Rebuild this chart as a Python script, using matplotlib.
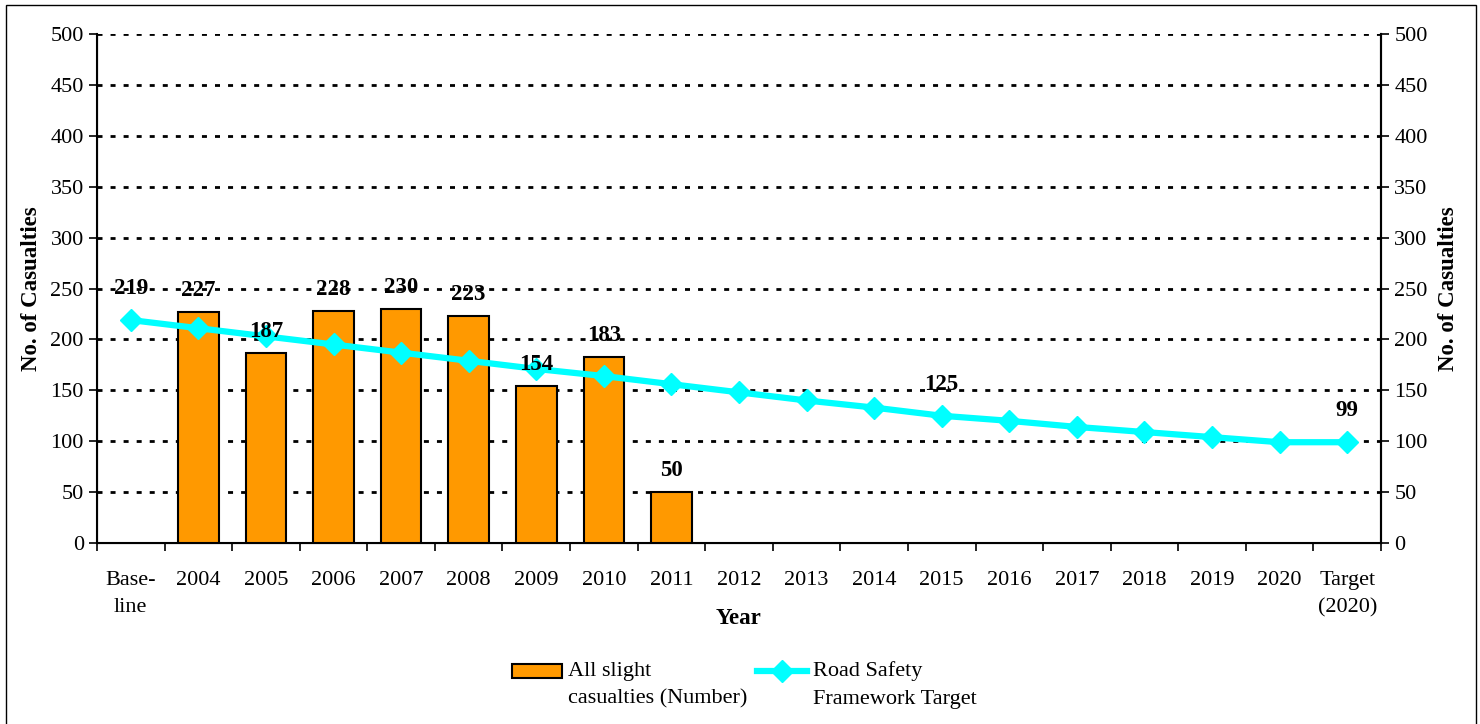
import matplotlib.pyplot as plt
from matplotlib.patches import Rectangle
from matplotlib.legend_handler import HandlerPatch, HandlerLine2D
import numpy as np

plt.rcParams['font.family'] = ['Liberation Serif', 'DejaVu Serif']

# Daten
categories = ['Base-\nline', '2004', '2005', '2006', '2007', '2008', '2009', '2010',
              '2011', '2012', '2013', '2014', '2015', '2016', '2017', '2018',
              '2019', '2020', 'Target\n(2020)']
casualties = [None, 227, 187, 228, 230, 223, 154, 183, 50,
              None, None, None, None, None, None, None, None, None, None]
target = [219, 211, 203, 195, 187, 179, 171, 164, 156, 148, 140, 133, 125,
          120, 114, 109, 104, 99, 99]
target_labels = {0: '219', 12: '125', 18: '99'}
y_ticks = [0, 50, 100, 150, 200, 250, 300, 350, 400, 450, 500]
legend_labels = ['All slight\ncasualties (Number)', 'Road Safety\nFramework Target']

LEG_SHIFT = 9.5  # Symbol auf Hoehe der ersten Textzeile


class TopPatch(HandlerPatch):
    def create_artists(self, legend, orig_handle, xdescent, ydescent, width, height,
                       fontsize, trans):
        return super().create_artists(legend, orig_handle, xdescent, ydescent - LEG_SHIFT,
                                      width, height, fontsize, trans)


class TopLine(HandlerLine2D):
    def create_artists(self, legend, orig_handle, xdescent, ydescent, width, height,
                       fontsize, trans):
        return super().create_artists(legend, orig_handle, xdescent, ydescent - 2 * LEG_SHIFT,
                                      width, height, fontsize, trans)


fig = plt.figure(figsize=(14.8, 7.24), dpi=100)
ax = fig.add_axes([97 / 1480, 1 - 543 / 724, (1381 - 97) / 1480, (543 - 34) / 724])

x = np.arange(len(categories))

# Balken
bx = [i for i, v in enumerate(casualties) if v is not None]
bv = [v for v in casualties if v is not None]
bars = ax.bar(bx, bv, width=0.6, color='#FF9900', edgecolor='black', linewidth=1.5,
              zorder=3)
for xi, v in zip(bx, bv):
    ax.annotate(str(v), (xi, v), xytext=(0, 8), textcoords='offset points',
                ha='center', va='bottom', fontsize=16.5, fontweight='bold', zorder=6)

# Linie
line, = ax.plot(x, target, color='#00FFFF', linewidth=4.5, marker='D', markersize=11,
                zorder=4)
for i, txt in target_labels.items():
    ax.annotate(txt, (i, target[i]), xytext=(0, 15), textcoords='offset points',
                ha='center', va='bottom', fontsize=16.5, fontweight='bold', zorder=6)

# Gitter
for yv in y_ticks[1:]:
    ax.axhline(yv, color='black', linewidth=2, linestyle=(0, (1.8, 2.9)), zorder=1)

ax.set_xlim(-0.5, len(categories) - 0.5)
ax.set_ylim(0, 500)
ax.set_yticks(y_ticks)
ax.set_xticks(x)
ax.set_xticklabels(categories, fontsize=16)
for lbl in ax.get_xticklabels():
    lbl.set_linespacing(1.6)
ax.set_xticks(np.arange(-0.5, len(categories), 1), minor=True)
ax.tick_params(axis='x', which='major', length=0, pad=20)
ax.tick_params(axis='x', which='minor', length=6, width=1.2, direction='out')
ax.tick_params(axis='y', length=6, width=1.2, labelsize=16)
ax.spines['top'].set_visible(False)
for s in ['left', 'right', 'bottom']:
    ax.spines[s].set_linewidth(1.5)

ax.set_xlabel('Year', fontsize=16.5, fontweight='bold', va='center')
ax.xaxis.set_label_coords(0.5, -(619 - 543) / 509)
ax.set_ylabel('No. of Casualties', fontsize=16.5, fontweight='bold', va='center')
ax.yaxis.set_label_coords((32 - 97) / 1284, 0.5)

ax2 = ax.twinx()
ax2.set_ylim(0, 500)
ax2.set_yticks(y_ticks)
ax2.tick_params(axis='y', length=6, width=1.2, labelsize=16)
ax2.spines['top'].set_visible(False)
ax2.spines['right'].set_linewidth(1.5)
ax2.set_ylabel('No. of Casualties', fontsize=16.5, fontweight='bold', rotation=90, va='center')
ax2.yaxis.set_label_coords((1448 - 97) / 1284, 0.5)

# Legende
bar_handle = bars.patches[0]
leg = fig.legend([bar_handle, line], legend_labels, loc='center',
                 bbox_to_anchor=(0.503, 1 - 685 / 724),
                 ncol=2, frameon=False, fontsize=16, handlelength=2.25, columnspacing=0.45,
                 handletextpad=0.27, handleheight=0.6,
                 handler_map={bar_handle: TopPatch(), line: TopLine()})
for t in leg.get_texts():
    t.set_linespacing(1.6)

# Rahmen
fig.patches.append(Rectangle((6 / 1480, -0.01), 1470 / 1480, 1.01 - 5 / 724,
                             transform=fig.transFigure, fill=False,
                             edgecolor='black', linewidth=1))

fig.savefig('out.png', dpi=100)
